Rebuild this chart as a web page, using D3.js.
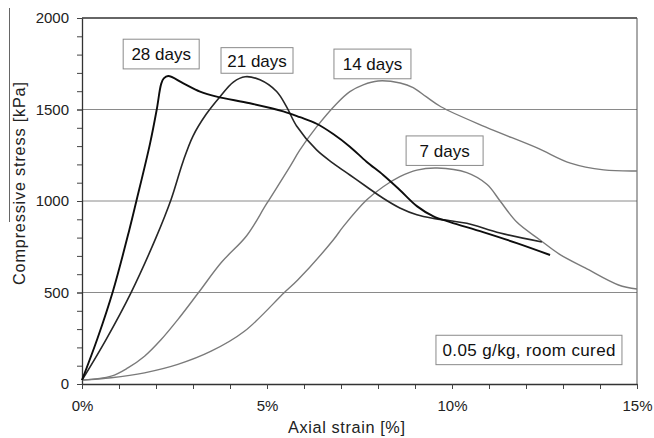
<!DOCTYPE html>
<html>
<head>
<meta charset="utf-8">
<script src="https://cdn.jsdelivr.net/npm/d3@7"></script>
<style>
  body { margin: 0; background: #fff; }
  svg { display: block; font-family: "Liberation Sans", Arial, sans-serif; }
</style>
</head>
<body>
<svg id="chart"></svg>
<script>
// axial strain [%] / compressive stress [kPa]
const strain28 = [0, 0.42, 0.84, 1.28, 1.47, 1.84, 2.02, 2.14, 2.21, 2.33, 2.74, 3.19, 3.64, 4.54, 5.44, 5.89, 6.34, 6.79, 7.24, 7.69, 8.14, 8.59, 9.05, 9.5, 9.95, 10.84, 11.75, 12.65];
const stress28 = [21, 250, 510, 843, 1000, 1315, 1500, 1640, 1670, 1683, 1643, 1598, 1570, 1534, 1490, 1458, 1422, 1366, 1297, 1215, 1142, 1060, 972, 916, 885, 830, 770, 705];

const strain21 = [0, 0.65, 1.32, 2.0, 2.41, 2.73, 3.0, 3.36, 3.73, 4.09, 4.41, 4.81, 5.26, 5.53, 5.8, 6.34, 6.79, 7.24, 7.69, 8.14, 8.59, 9.05, 9.5, 9.95, 10.4, 11.3, 12.43];
const stress21 = [21, 243, 497, 800, 1010, 1215, 1355, 1475, 1570, 1650, 1679, 1662, 1598, 1514, 1410, 1279, 1206, 1142, 1078, 1015, 962, 925, 905, 892, 878, 825, 776];

const strain14 = [0, 0.79, 1.24, 1.69, 2.14, 2.59, 3.14, 3.77, 4.45, 4.99, 5.62, 5.89, 6.34, 6.88, 7.24, 7.6, 8.0, 8.6, 8.95, 9.3, 9.7, 10.9, 12.3, 13.2, 14.1, 15];
const stress14 = [21, 43, 88, 152, 243, 352, 497, 665, 810, 985, 1188, 1279, 1405, 1532, 1598, 1635, 1656, 1645, 1620, 1570, 1515, 1405, 1290, 1207, 1170, 1164];

const strain7 = [0, 0.79, 1.69, 2.59, 3.49, 4.39, 5.47, 5.83, 6.79, 7.06, 7.69, 8.14, 8.59, 9.05, 9.6, 10.4, 10.95, 11.3, 11.75, 12.38, 12.9, 13.6, 14.5, 15];
const stress7 = [21, 34, 61, 107, 179, 288, 500, 568, 787, 860, 1005, 1078, 1133, 1169, 1180, 1155, 1090, 1000, 885, 787, 710, 634, 541, 519];

const seriesNames = ["7 days", "14 days", "21 days", "28 days"];
const yTicks = [0, 500, 1000, 1500, 2000];
const xTicks = [0, 5, 10, 15];
const gridValues = [500, 1000, 1500];
const note = "0.05 g/kg, room cured";

// label anchors in data units (strain %, kPa)
const labelStrain = [9.8, 7.85, 4.73, 2.14];
const labelStress = [1275, 1749, 1768, 1803];

function main() {
    const width = 654;
    const height = 438;
    const left = 82, right = 637, top = 18, bottom = 384;

    const svg = d3.select("#chart").attr("width", width).attr("height", height);

    const x = d3.scaleLinear().domain([0, 15]).range([left, right]);
    const y = d3.scaleLinear().domain([0, 2000]).range([bottom, top]);

    // grid lines
    svg.append("g").selectAll("line").data(gridValues).join("line")
        .attr("x1", left).attr("x2", right)
        .attr("y1", d => y(d)).attr("y2", d => y(d))
        .attr("stroke", "#8a8a8a").attr("stroke-width", 1);

    // frame top / right
    svg.append("line").attr("x1", left).attr("x2", right).attr("y1", y(2000)).attr("y2", y(2000))
        .attr("stroke", "#333").attr("stroke-width", 1.3);
    svg.append("line").attr("x1", right).attr("x2", right).attr("y1", y(2000)).attr("y2", y(0))
        .attr("stroke", "#555").attr("stroke-width", 1);

    // minor ticks
    svg.append("g").attr("transform", "translate(" + left + ",0)")
        .call(d3.axisLeft(y).tickValues(d3.range(0, 2001, 100)).tickSize(5).tickFormat(""))
        .call(g => g.select(".domain").remove())
        .call(g => g.selectAll("line").attr("stroke", "#444"));
    svg.append("g").attr("transform", "translate(0," + bottom + ")")
        .call(d3.axisBottom(x).tickValues(d3.range(0, 16, 1)).tickSize(5).tickFormat(""))
        .call(g => g.select(".domain").remove())
        .call(g => g.selectAll("line").attr("stroke", "#444"));

    // main axes
    const yAxis = svg.append("g").attr("transform", "translate(" + left + ",0)")
        .call(d3.axisLeft(y).tickValues(yTicks).tickSize(5).tickPadding(8).tickSizeOuter(0)
            .tickFormat(d3.format("d")));
    const xAxis = svg.append("g").attr("transform", "translate(0," + bottom + ")")
        .call(d3.axisBottom(x).tickValues(xTicks).tickSize(5).tickPadding(11).tickSizeOuter(0)
            .tickFormat(d => d + "%"));
    [yAxis, xAxis].forEach(g => {
        g.select(".domain").attr("stroke", "#333").attr("stroke-width", 1.3);
        g.selectAll("line").attr("stroke", "#444");
        g.selectAll("text").attr("font-size", 15).attr("fill", "#222")
            .attr("font-family", "Liberation Sans, Arial, sans-serif");
    });

    // curves
    const line = d3.line().x(d => x(d[0])).y(d => y(d[1])).curve(d3.curveCatmullRom.alpha(0.5));
    const curves = [
        { xs: strain7, ys: stress7, color: "#7a7a7a", w: 1.4 },
        { xs: strain14, ys: stress14, color: "#7a7a7a", w: 1.4 },
        { xs: strain21, ys: stress21, color: "#262626", w: 1.6 },
        { xs: strain28, ys: stress28, color: "#0d0d0d", w: 1.9 }
    ];
    svg.append("g").selectAll("path").data(curves).join("path")
        .attr("d", c => line(d3.zip(c.xs, c.ys)))
        .attr("fill", "none")
        .attr("stroke", c => c.color)
        .attr("stroke-width", c => c.w)
        .attr("stroke-linejoin", "round");

    // series labels in boxes
    const boxH = [29.5, 29.7, 25.6, 29.7];
    const boxW = [77, 77, 72, 76];
    const lab = svg.append("g").selectAll("g").data(seriesNames).join("g")
        .attr("transform", (d, i) => "translate(" + x(labelStrain[i]) + "," + y(labelStress[i]) + ")");
    lab.append("rect")
        .attr("x", (d, i) => -boxW[i] / 2).attr("y", (d, i) => -boxH[i] / 2)
        .attr("width", (d, i) => boxW[i]).attr("height", (d, i) => boxH[i])
        .attr("fill", "#fff").attr("stroke", "#8a8a8a").attr("stroke-width", 1);
    lab.append("text").text(d => d)
        .attr("text-anchor", "middle").attr("dy", "0.36em")
        .attr("font-size", 17).attr("fill", "#111");

    // note box
    const noteG = svg.append("g").attr("transform", "translate(" + x(12.08) + "," + y(186) + ")");
    noteG.append("rect").attr("x", -93).attr("y", -14.7).attr("width", 186).attr("height", 29.4)
        .attr("fill", "#fff").attr("stroke", "#8a8a8a");
    noteG.append("text").text(note).attr("text-anchor", "middle").attr("dy", "0.36em")
        .attr("font-size", 17).attr("fill", "#111")
        .attr("textLength", 173).attr("lengthAdjust", "spacing");

    // axis titles
    svg.append("text").text("Axial strain [%]")
        .attr("x", 346.5).attr("y", 433).attr("text-anchor", "middle")
        .attr("font-size", 16.3).attr("fill", "#222")
        .attr("textLength", 117).attr("lengthAdjust", "spacing");
    svg.append("text").text("Compressive stress [kPa]")
        .attr("transform", "translate(25,183.5) rotate(-90)")
        .attr("text-anchor", "middle")
        .attr("font-size", 16.3).attr("fill", "#222")
        .attr("textLength", 203).attr("lengthAdjust", "spacing");
    svg.append("line").attr("x1", 9.5).attr("x2", 9.5).attr("y1", 8).attr("y2", 222)
        .attr("stroke", "#666").attr("stroke-width", 1);
}

main();
</script>
</body>
</html>
